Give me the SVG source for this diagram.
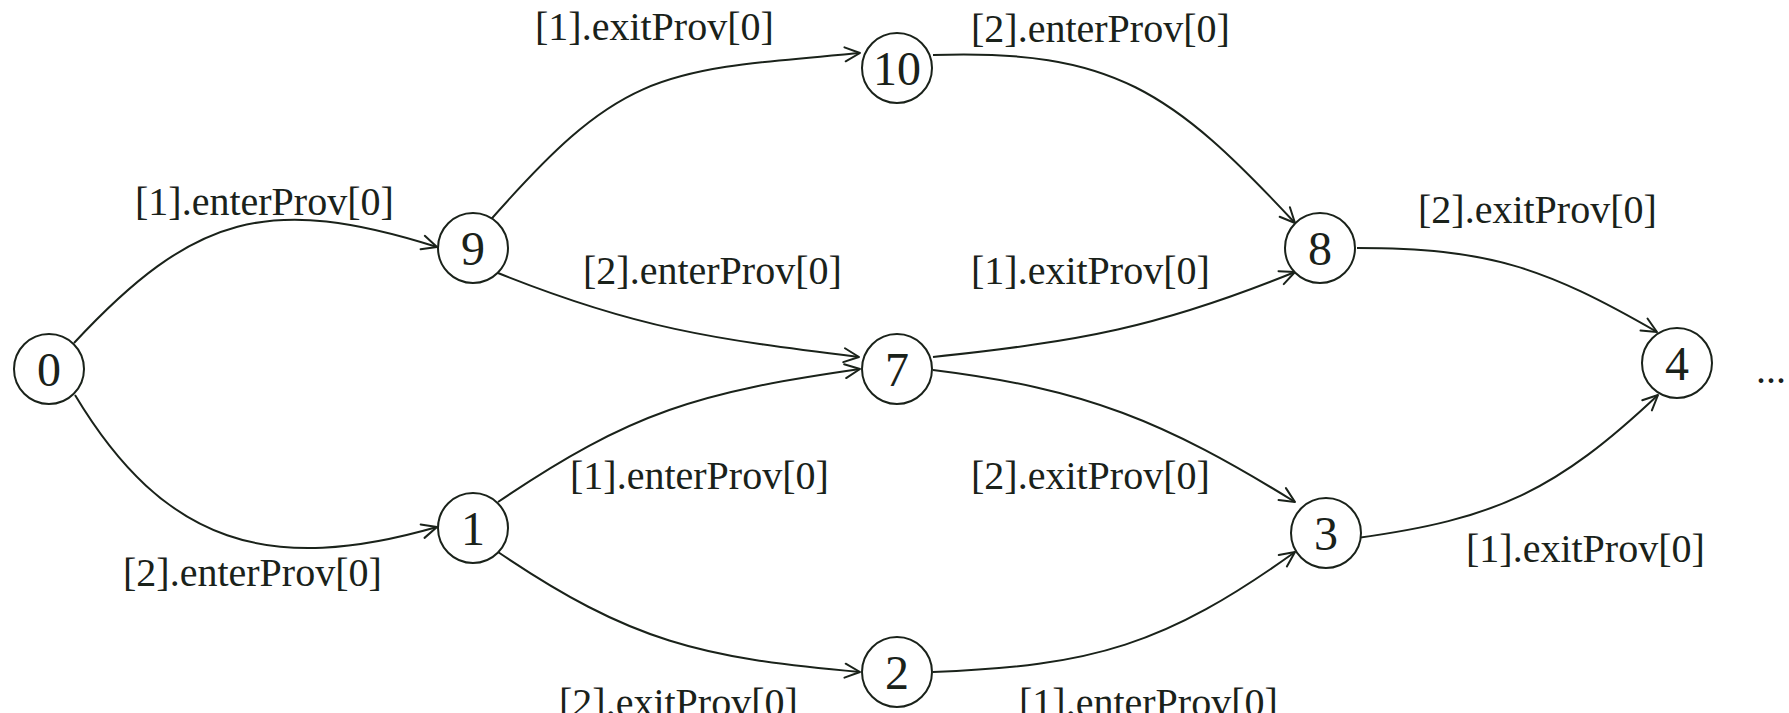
<svg xmlns="http://www.w3.org/2000/svg" width="1789" height="713" viewBox="0 0 1789 713">
<defs>
<marker id="arr" markerUnits="userSpaceOnUse" markerWidth="30" markerHeight="30" refX="0" refY="0" viewBox="-20 -15 30 30" orient="auto">
<path d="M-15,-7 L0,0 L-15,7" fill="none" stroke="#1a221a" stroke-width="2" stroke-linecap="round" stroke-linejoin="round"/>
</marker>
<style>
.n circle{fill:#fff;stroke:#1a221a;stroke-width:2}
.n text{font-family:"Liberation Serif","Times New Roman",serif;font-size:48px;fill:#1a221a;text-anchor:middle}
.e path{fill:none;stroke:#1a221a;stroke-width:2;marker-end:url(#arr)}
.l{font-family:"Liberation Serif","Times New Roman",serif;font-size:40px;fill:#1a221a}
</style>
</defs>
<rect width="1789" height="713" fill="#fff"/>
<g id="connectors" class="e">
<path d="M74,343 C194,214 269,194 437,247"/>
<path d="M75,395 C165,545 270,575 437,527"/>
<path d="M486,225 C622,70 655,71 860,53"/>
<path d="M498,273 C635,328 712,339 859,357"/>
<path d="M498,502 C632,411 700,392 860,369"/>
<path d="M498,552 C631,642 701,658 860,672"/>
<path d="M933,55 C1113,49 1172,91 1295,223"/>
<path d="M933,357 C1081,341 1157,328 1295,272"/>
<path d="M933,370 C1086,389 1164,421 1295,502"/>
<path d="M933,672 C1093,666 1165,645 1295,552"/>
<path d="M1357,248 C1488,248 1544,267 1657,332"/>
<path d="M1357,538 C1496,519 1556,491 1658,395"/>
</g>
<g id="labels" class="l">
<text x="135" y="215">[1].enterProv[0]</text>
<text x="123" y="586">[2].enterProv[0]</text>
<text x="535" y="40">[1].exitProv[0]</text>
<text x="971" y="42">[2].enterProv[0]</text>
<text x="583" y="284">[2].enterProv[0]</text>
<text x="971" y="284">[1].exitProv[0]</text>
<text x="1418" y="223">[2].exitProv[0]</text>
<text x="570" y="489">[1].enterProv[0]</text>
<text x="971" y="489">[2].exitProv[0]</text>
<text x="1466" y="562">[1].exitProv[0]</text>
<text x="559" y="716">[2].exitProv[0]</text>
<text x="1019" y="716">[1].enterProv[0]</text>
<text x="1756" y="383">...</text>
</g>
<g id="node0" class="n"><circle cx="49" cy="369" r="35"/><text x="49" y="386">0</text></g>
<g id="node9" class="n"><circle cx="473" cy="248" r="35"/><text x="473" y="265">9</text></g>
<g id="node10" class="n"><circle cx="897" cy="68" r="35"/><text x="897" y="85">10</text></g>
<g id="node7" class="n"><circle cx="897" cy="369" r="35"/><text x="897" y="386">7</text></g>
<g id="node1" class="n"><circle cx="473" cy="528" r="35"/><text x="473" y="545">1</text></g>
<g id="node2" class="n"><circle cx="897" cy="672" r="35"/><text x="897" y="689">2</text></g>
<g id="node8" class="n"><circle cx="1320" cy="248" r="35"/><text x="1320" y="265">8</text></g>
<g id="node3" class="n"><circle cx="1326" cy="533" r="35"/><text x="1326" y="550">3</text></g>
<g id="node4" class="n"><circle cx="1677" cy="363" r="35"/><text x="1677" y="380">4</text></g>
</svg>
